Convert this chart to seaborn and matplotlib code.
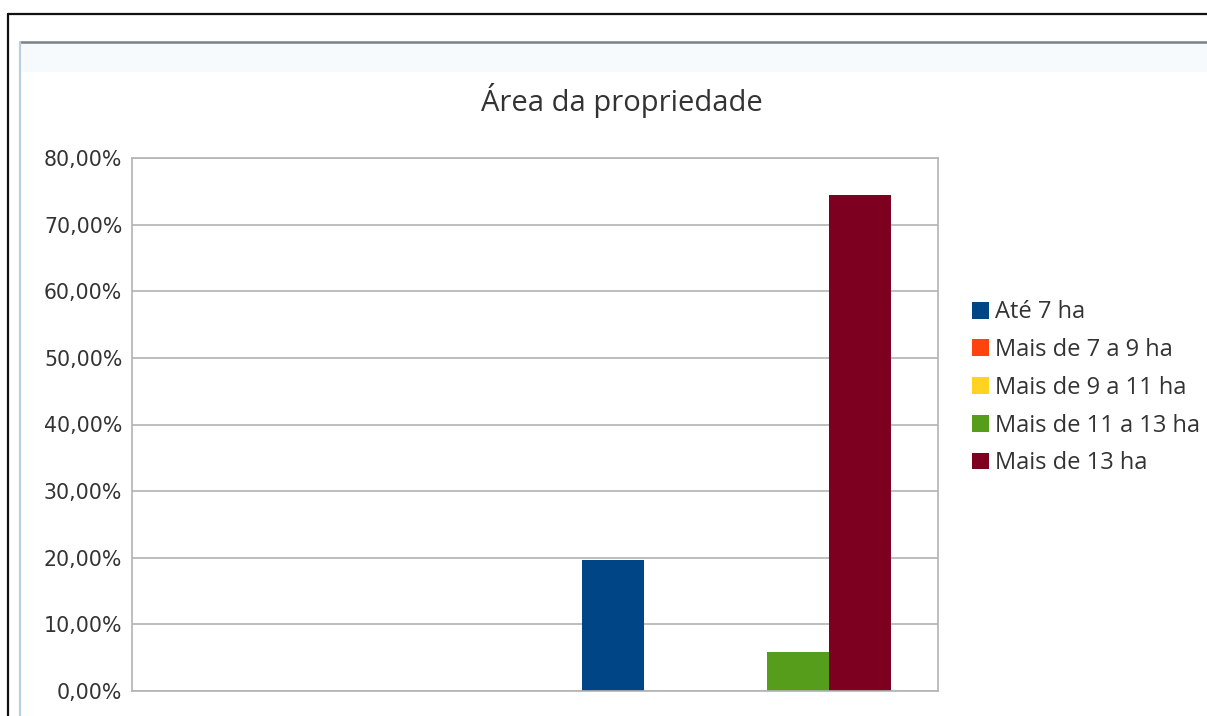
import matplotlib
matplotlib.use("Agg")
import matplotlib.pyplot as plt
from matplotlib.lines import Line2D
from matplotlib.patches import Rectangle
from matplotlib.ticker import FuncFormatter, MultipleLocator
import seaborn as sns
import pandas as pd

# Data: share of properties by area class (percent)
groups = ["A", "B"]
series = ["Até 7 ha", "Mais de 7 a 9 ha", "Mais de 9 a 11 ha",
          "Mais de 11 a 13 ha", "Mais de 13 ha"]
values_a = [0.0, 0.0, 0.0, 0.0, 0.0]
values_b = [19.7, 0.0, 0.0, 5.9, 74.4]
colors = ["#004586", "#ff420e", "#ffd320", "#579d1c", "#7e0021"]

df = pd.DataFrame({
    "grupo": [groups[0]] * len(series) + [groups[1]] * len(series),
    "serie": series + series,
    "valor": values_a + values_b,
})

sns.set_theme(style="white")
plt.rcParams["font.family"] = ["DejaVu Sans"]

W, H = 1207, 716
fig = plt.figure(figsize=(W / 100, H / 100), dpi=100)
fig.patch.set_facecolor("white")

def fx(px):
    return px / W

def fy(py):
    return 1 - py / H

# outer and inner frames
fig.add_artist(Line2D([fx(8), 1], [fy(13.5), fy(13.5)], color="#111111", lw=1.6))
fig.add_artist(Line2D([fx(8), fx(8)], [fy(13.5), 0], color="#111111", lw=1.6))
fig.add_artist(Rectangle((fx(21), fy(72)), 1 - fx(21), fy(43) - fy(72),
                         facecolor="#f7fafd", edgecolor="none"))
fig.add_artist(Line2D([fx(20), 1], [fy(42), fy(42)], color="#7a8288", lw=1.8))
fig.add_artist(Line2D([fx(20), fx(20)], [fy(42), 0], color="#b9cfe0", lw=1.6))

left, right, top, bottom = 132, 938, 158, 691
ax = fig.add_axes([fx(left), fy(bottom), fx(right) - fx(left), fy(top) - fy(bottom)])

sns.barplot(data=df, x="grupo", y="valor", hue="serie", hue_order=series,
            order=groups, palette=colors, width=0.769, gap=0,
            saturation=1, dodge=True, ax=ax, legend=False, linewidth=0)

ax.set_xlim(-0.5, 1.5)
ax.set_ylim(0, 80)
ax.yaxis.set_major_locator(MultipleLocator(10))
ax.yaxis.set_major_formatter(FuncFormatter(lambda v, p: f"{v:.2f}%".replace(".", ",")))
ax.grid(axis="y", color="#b3b3b3", lw=1.2)
ax.set_axisbelow(True)
for s in ax.spines.values():
    s.set_visible(True)
    s.set_color("#b3b3b3")
    s.set_linewidth(1.2)
ax.set_xticks([])
ax.set_xlabel("")
ax.set_ylabel("")
ax.tick_params(axis="y", length=0, pad=7, labelsize=14.8, labelcolor="#333333")

fig.text(fx(622), fy(100), "Área da propriedade", ha="center", va="center",
         fontsize=21, color="#333333", family=["Open Sans", "DejaVu Sans"])

handles = [Rectangle((0, 0), 1, 1, facecolor=c, edgecolor="none") for c in colors]
leg = fig.legend(handles, series, loc="upper left",
                 bbox_to_anchor=(fx(963), fy(291)), frameon=False,
                 handlelength=0.72, handleheight=0.72, handletextpad=0.22,
                 labelspacing=0.58, borderaxespad=0,
                 prop={"family": ["Open Sans", "DejaVu Sans"], "size": 17})
for t in leg.get_texts():
    t.set_color("#333333")

fig.savefig("out.png", dpi=100)
